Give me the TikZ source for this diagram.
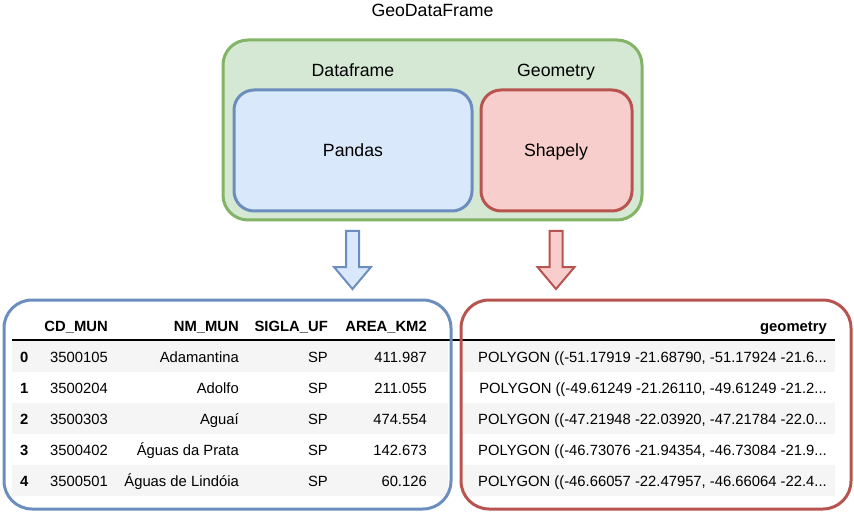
\documentclass[tikz,border=0pt]{standalone}
\usepackage{fontspec}
\setmainfont{Liberation Sans}
\definecolor{gfill}{HTML}{D5E8D4}
\definecolor{gstroke}{HTML}{82B366}
\definecolor{bfill}{HTML}{DAE8FC}
\definecolor{bstroke}{HTML}{6C8EBF}
\definecolor{rfill}{HTML}{F8CECC}
\definecolor{rstroke}{HTML}{B85450}
\definecolor{stripe}{HTML}{F5F5F5}
\begin{document}
\begin{tikzpicture}[x=1pt,y=-1pt,
  bigfont/.style={font=\fontsize{17.7}{20}\selectfont, inner sep=0},
  tabfont/.style={font=\fontsize{14.8}{17}\selectfont, inner sep=0, anchor=base east},
  tabhead/.style={font=\fontsize{14.8}{17}\selectfont\bfseries, inner sep=0, anchor=base east},
  box/.style={line width=3pt, inner sep=0, outer sep=0},
  downarrow/.style={line width=2pt, line join=miter}
]
\useasboundingbox (0,0) rectangle (854,513);

% top composite
\node[box, draw=gstroke, fill=gfill, rounded corners=25pt, minimum width=419pt, minimum height=180pt] (geo) at (432.5,130) {};
\node[box, draw=bstroke, fill=bfill, rounded corners=20pt, minimum width=238pt, minimum height=121pt] (pandas) at (353,150.5) {};
\node[box, draw=rstroke, fill=rfill, rounded corners=20pt, minimum width=151pt, minimum height=121pt] (shapely) at (556.5,150.5) {};

\node[bigfont, anchor=base] (title) at (432.5,17) {GeoDataFrame};
\node[bigfont, anchor=base] (dflabel) at (353,77) {Dataframe};
\node[bigfont, anchor=base] (geomlabel) at (556,77) {Geometry};
\node[bigfont, anchor=base] (pandastxt) at (353,157) {Pandas};
\node[bigfont, anchor=base] (shapelytxt) at (556,157) {Shapely};

% arrows
\coordinate (ab) at (352.5,231);
\coordinate (ar) at (556,231);
\foreach \c/\f/\s in {ab/bfill/bstroke, ar/rfill/rstroke}{
  \draw[downarrow, draw=\s, fill=\f] ([xshift=-6.5pt]\c) -- ([xshift=6.5pt]\c) -- ([xshift=6.5pt,yshift=-36pt]\c)
    -- ([xshift=18.5pt,yshift=-36pt]\c) -- ([yshift=-58pt]\c) -- ([xshift=-18.5pt,yshift=-36pt]\c)
    -- ([xshift=-6.5pt,yshift=-36pt]\c) -- cycle;
}

% table stripes
\foreach \ya/\yb in {341/372, 403/434, 465/496}{
  \fill[stripe] (12,\ya) rectangle (448,\yb);
  \fill[stripe] (463,\ya) rectangle (835,\yb);
}
\draw[line width=1.3pt] (12,340) -- (835,340);

% headers
\node[tabhead] (hcd) at (108,331) {CD\_MUN};
\node[tabhead] (hnm) at (239,331) {NM\_MUN};
\node[tabhead] (hsg) at (328,331) {SIGLA\_UF};
\node[tabhead] (har) at (427,331) {AREA\_KM2};
\node[tabhead] (hgeo) at (827,331) {geometry};

% rows
\foreach \i/\cd/\nm/\ar/\poly [count=\k from 0] in {
  0/3500105/Adamantina/411.987/{POLYGON ((-51.17919 -21.68790, -51.17924 -21.6...},
  1/3500204/Adolfo/211.055/{POLYGON ((-49.61249 -21.26110, -49.61249 -21.2...},
  2/3500303/Aguaí/474.554/{POLYGON ((-47.21948 -22.03920, -47.21784 -22.0...},
  3/3500402/Águas da Prata/142.673/{POLYGON ((-46.73076 -21.94354, -46.73084 -21.9...},
  4/3500501/Águas de Lindóia/60.126/{POLYGON ((-46.66057 -22.47957, -46.66064 -22.4...}}{
  \pgfmathsetmacro{\yy}{362+31.15*\k}
  \node[tabhead, anchor=base west] (idx\i) at (20,\yy) {\i};
  \node[tabfont] (cd\i) at (108,\yy) {\cd};
  \node[tabfont] (nm\i) at (239,\yy) {\nm};
  \node[tabfont] (sg\i) at (328,\yy) {SP};
  \node[tabfont] (ar\i) at (427,\yy) {\ar};
  \node[tabfont] (pg\i) at (827,\yy) {\poly};
}

% table frames
\node[box, draw=bstroke, rounded corners=28pt, minimum width=447pt, minimum height=209pt] (dftable) at (227.5,404.5) {};
\node[box, draw=rstroke, rounded corners=28pt, minimum width=390pt, minimum height=209pt] (geotable) at (656,404.5) {};
\end{tikzpicture}
\end{document}
